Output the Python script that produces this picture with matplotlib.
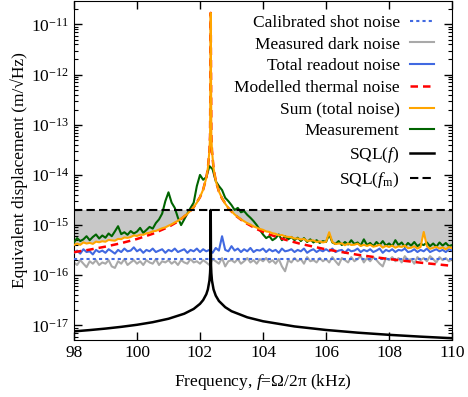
import numpy as np
import matplotlib
matplotlib.use("Agg")
import matplotlib.pyplot as plt
from matplotlib.ticker import FixedLocator

plt.rcParams['font.family'] = ['Liberation Serif', 'DejaVu Serif']
plt.rcParams['mathtext.fontset'] = 'custom'
plt.rcParams['mathtext.rm'] = 'Liberation Serif'
plt.rcParams['mathtext.it'] = 'Liberation Serif:italic'
plt.rcParams['mathtext.bf'] = 'Liberation Serif:bold'

# ---------------- data (kHz, m/sqrt(Hz)) ----------------
# noisy traces sampled every 0.1 kHz from 98 to 110 kHz (values in 1e-16 m/sqrt(Hz))
noise_freq = np.round(np.linspace(98.0, 110.0, 121), 2)

dark_noise = [
    1.8, 1.6, 2.0, 1.7, 1.45, 1.9, 1.7, 2.0, 1.6, 1.8,
    1.7, 2.0, 1.5, 1.4, 1.9, 1.7, 2.1, 1.6, 1.8, 2.0,
    1.7, 1.9, 1.6, 2.0, 1.8, 1.7, 2.1, 1.6, 1.9, 1.8,
    2.0, 1.7, 1.9, 1.6, 2.0, 1.8, 1.7, 2.1, 1.8, 1.9,
    1.7, 2.0, 1.8, 1.6, 2.1, 1.9, 1.7, 2.2, 1.5, 1.9,
    2.0, 1.8, 2.1, 1.7, 1.9, 2.2, 1.8, 2.0, 1.7, 2.1,
    1.9, 2.2, 1.8, 2.0, 1.7, 2.1, 1.5, 1.2, 2.0, 1.8,
    2.2, 1.9, 2.1, 1.7, 2.3, 1.9, 2.0, 1.8, 2.2, 1.9,
    2.1, 1.8, 2.3, 1.9, 1.6, 2.2, 2.0, 1.8, 2.3, 1.9,
    2.1, 2.4, 1.8, 2.2, 1.9, 2.3, 2.0, 1.7, 1.5, 2.2,
    2.0, 2.3, 1.9, 2.2, 1.8, 2.4, 2.0, 2.1, 1.7, 2.3,
    2.0, 2.2, 1.9, 2.4, 2.1, 1.8, 2.3, 2.0, 2.2, 1.9,
    2.1]

readout_noise = [
    2.8, 3.1, 2.7, 3.3, 2.9, 3.0, 2.6, 3.2, 2.9, 3.1,
    2.8, 3.3, 3.0, 2.7, 3.2, 2.9, 3.4, 3.0, 3.1, 3.6,
    3.0, 3.3, 2.8, 3.2, 3.0, 3.4, 2.9, 3.1, 3.3, 2.8,
    3.2, 3.0, 3.4, 2.9, 3.1, 3.3, 2.8, 3.2, 3.0, 3.4,
    2.9, 3.3, 3.0, 3.2, 2.8, 3.5, 3.1, 6.0, 3.2, 3.0,
    3.8, 3.1, 3.4, 2.9, 3.3, 3.0, 3.5, 2.9, 3.2, 3.1,
    3.4, 2.9, 3.3, 3.0, 3.2, 2.8, 3.4, 3.0, 3.1, 3.3,
    2.9, 3.2, 3.0, 3.4, 2.8, 3.1, 3.3, 2.9, 3.2, 3.0,
    3.3, 3.0, 3.4, 2.9, 3.1, 3.2, 2.8, 3.3, 3.0, 3.1,
    3.4, 2.9, 3.2, 3.0, 3.3, 2.9, 3.1, 3.4, 2.8, 3.2,
    3.0, 3.3, 2.9, 3.2, 3.1, 3.4, 2.9, 3.0, 3.3, 2.9,
    3.2, 3.0, 3.4, 2.9, 3.1, 3.3, 3.0, 3.2, 2.9, 3.3,
    3.1]

measurement = [
    4.5, 5.5, 4.8, 5.2, 6.0, 5.0, 5.8, 6.5, 5.4, 6.2,
    5.6, 6.8, 6.0, 7.5, 9.5, 6.6, 7.2, 6.4, 7.6, 6.8,
    7.4, 8.8, 7.0, 8.0, 9.2, 8.5, 11, 13, 17, 30,
    45, 28, 22, 14, 10, 13, 17, 22, 28, 60,
    100, 80, 90, 150, 130, 75, 60, 50, 35, 30,
    25, 20, 22, 18, 19, 16, 14, 12, 10, 8.0,
    6.5, 5.5, 6.0, 5.0, 5.5, 6.5, 5.0, 6.0, 5.2, 5.8,
    5.0, 5.6, 4.8, 5.5, 4.6, 5.2, 4.5, 5.0, 4.4, 4.8,
    4.6, 6.5, 4.5, 4.2, 4.8, 4.0, 4.6, 4.1, 5.0, 4.2,
    4.5, 3.9, 5.2, 4.0, 4.4, 3.8, 4.6, 4.0, 4.8, 3.9,
    4.3, 3.8, 5.0, 4.0, 4.5, 3.7, 4.4, 3.9, 4.6, 3.8,
    4.2, 4.0, 4.5, 3.8, 4.3, 3.7, 4.5, 3.9, 4.4, 3.8,
    4.0]

shot_freq = [98.0, 110.0]
shot_noise = [2.07, 2.07]

# smooth modelled thermal noise (1e-16 m/sqrt(Hz))
thermal_freq = [98, 98.5, 99, 99.5, 100, 100.5, 101, 101.3, 101.6, 101.8,
                102.0, 102.1, 102.2, 102.25, 102.3, 102.32, 102.34, 102.36,
                102.38, 102.43, 102.5, 102.6, 102.7, 102.9, 103.1, 103.4,
                103.8, 104.2, 104.7, 105.2, 106, 107, 108, 109, 110]
thermal_noise = [2.88, 3.24, 3.72, 4.36, 5.28, 6.70, 9.17, 11.8, 16.6, 22.7,
                 36.0, 50.9, 87.1, 136, 305, 610, 170000, 610,
                 305, 136, 76.3, 46.9, 33.9, 21.8, 16.0, 11.5,
                 8.31, 6.51, 5.12, 4.21, 3.28, 2.56, 2.10, 1.78, 1.54]

# sum (total noise), 1e-16 m/sqrt(Hz)
sum_freq = list(np.round(np.linspace(98.0, 101.7, 38), 2)) + \
    [101.8, 101.9, 102.0, 102.1, 102.2, 102.25, 102.3, 102.32, 102.34,
     102.36, 102.38, 102.43, 102.5, 102.6, 102.7, 102.8, 102.9] + \
    list(np.round(np.linspace(103.0, 110.0, 71), 2))
total_noise = [
    4.01, 4.27, 4.04, 4.51, 4.29, 4.42, 4.22, 4.68, 4.55, 4.76,
    4.66, 5.06, 4.96, 4.89, 5.30, 5.24, 5.66, 5.57, 5.77, 6.22,
    6.07, 6.42, 6.41, 6.84, 7.03, 7.51, 7.65, 8.12, 8.64, 8.99,
    9.71, 10.35, 11.29, 12.15, 13.41, 14.97, 16.80, 19.41,
    22.9, 28.0, 36.1, 51.0, 87.2, 136, 305, 610, 170000,
    610, 305, 136, 76.4, 47.0, 34.4, 26.7, 22.0,
    18.84, 16.30, 14.55, 12.99, 11.93, 10.89, 10.25, 9.38, 8.90, 8.37,
    8.05, 7.47, 7.30, 6.86, 6.69, 6.26, 6.34, 5.93, 5.81, 5.75,
    5.38, 5.42, 5.17, 5.30, 4.83, 4.91, 4.95, 4.61, 4.72, 4.51,
    4.65, 7.2, 4.61, 4.19, 4.28, 4.31, 3.97, 4.29, 4.02, 4.06,
    4.26, 3.84, 4.04, 3.84, 4.06, 3.71, 3.84, 4.06, 3.55, 3.85,
    3.66, 3.89, 3.54, 3.77, 3.67, 3.90, 3.46, 3.53, 3.77, 3.41,
    3.66, 7.3, 3.81, 3.36, 3.52, 3.69, 3.41, 3.58, 3.30, 3.65,
    3.46]

# standard quantum limit SQL(f), 1e-18 m/sqrt(Hz)
sql_freq = [98, 98.5, 99, 99.5, 100, 100.5, 101, 101.5, 101.8, 102.0, 102.1,
            102.2, 102.25, 102.3, 102.32, 102.33, 102.34, 102.35, 102.36,
            102.38, 102.43, 102.5, 102.6, 102.8, 103, 103.5, 104, 105, 106,
            107, 108, 109, 110]
sql_f = [7.60, 8.07, 8.64, 9.36, 10.29, 11.59, 13.57, 17.11, 21.3, 26.9, 32.0,
         41.8, 52.2, 78.3, 111, 156, 2000, 156, 111,
         78.3, 52.2, 39.2, 30.7, 23.1, 19.2, 14.5, 12.1, 9.54, 8.11,
         7.17, 6.49, 5.97, 5.55]
sql_fm = 2.0e-15

x_ticks = [98, 100, 102, 104, 106, 108, 110]
y_ticks = [1e-17, 1e-16, 1e-15, 1e-14, 1e-13, 1e-12, 1e-11]

E16 = 1e-16
E18 = 1e-18

# ---------------- figure ----------------
fig = plt.figure(figsize=(4.68, 3.97), dpi=100)
ax = fig.add_axes([0.158, 0.1436, 0.808, 0.8544])

sum_vals = np.array(total_noise) * E16
ax.fill_between(sum_freq, sum_vals, sql_fm, where=sum_vals < sql_fm,
                interpolate=True, color='#c8c8c8', lw=0, zorder=1)

ax.plot(noise_freq, np.array(dark_noise) * E16, color='#a9a9a9', lw=1.5,
        label='Measured dark noise', zorder=2)
ax.plot(noise_freq, np.array(readout_noise) * E16, color='#4169e1', lw=1.5,
        label='Total readout noise', zorder=3)
ax.plot(shot_freq, np.array(shot_noise) * E16, color='#4169e1', lw=1.5,
        ls=(0, (1.5, 1.5)), label='Calibrated shot noise', zorder=4)
ax.plot(noise_freq, np.array(measurement) * E16, color='#006400', lw=1.5,
        label='Measurement', zorder=5)
ax.plot(thermal_freq, np.array(thermal_noise) * E16, color='#ff0000', lw=1.8,
        ls=(0, (3, 2)), label='Modelled thermal noise', zorder=6)
ax.plot(sum_freq, sum_vals, color='#ffa500', lw=1.5,
        label='Sum (total noise)', zorder=7)
ax.plot(sql_freq, np.array(sql_f) * E18, color='black', lw=1.8,
        label='SQL($f$)', zorder=8)
ax.axhline(sql_fm, color='black', lw=1.5, ls=(0, (4, 2)),
           label='SQL($f_\\mathrm{m}$)', zorder=8)

ax.set_yscale('log')
ax.set_xlim(98, 110)
ax.set_ylim(5.12e-18, 2.96e-11)
ax.set_xticks(x_ticks)
ax.set_yticks(y_ticks)
minors = [m * 10.0 ** e for e in range(-18, -10) for m in range(2, 10)
          if 5.12e-18 < m * 10.0 ** e < 2.96e-11]
ax.yaxis.set_minor_locator(FixedLocator(minors))
ax.yaxis.set_minor_formatter(plt.NullFormatter())
ax.tick_params(axis='both', which='both', direction='in', top=True, right=True,
               labelsize=12.5)
ax.tick_params(which='major', length=6, width=1)
ax.tick_params(which='minor', length=3, width=0.8)
ax.set_xlabel('Frequency, $f$=Ω/2π (kHz)', fontsize=12.5, labelpad=8)
ax.set_ylabel('Equivalent displacement (m/√Hz)', fontsize=12.5, labelpad=2)

handles, labels = ax.get_legend_handles_labels()
order = ['Calibrated shot noise', 'Measured dark noise', 'Total readout noise',
         'Modelled thermal noise', 'Sum (total noise)', 'Measurement',
         'SQL($f$)', 'SQL($f_\\mathrm{m}$)']
hmap = dict(zip(labels, handles))
ax.legend([hmap[l] for l in order], order, loc='upper right', frameon=False,
          markerfirst=False, fontsize=12.5, handlelength=1.4, labelspacing=0.32,
          handletextpad=0.6, borderaxespad=0.4, bbox_to_anchor=(0.99, 1.0))

fig.savefig('out.png', dpi=100)
